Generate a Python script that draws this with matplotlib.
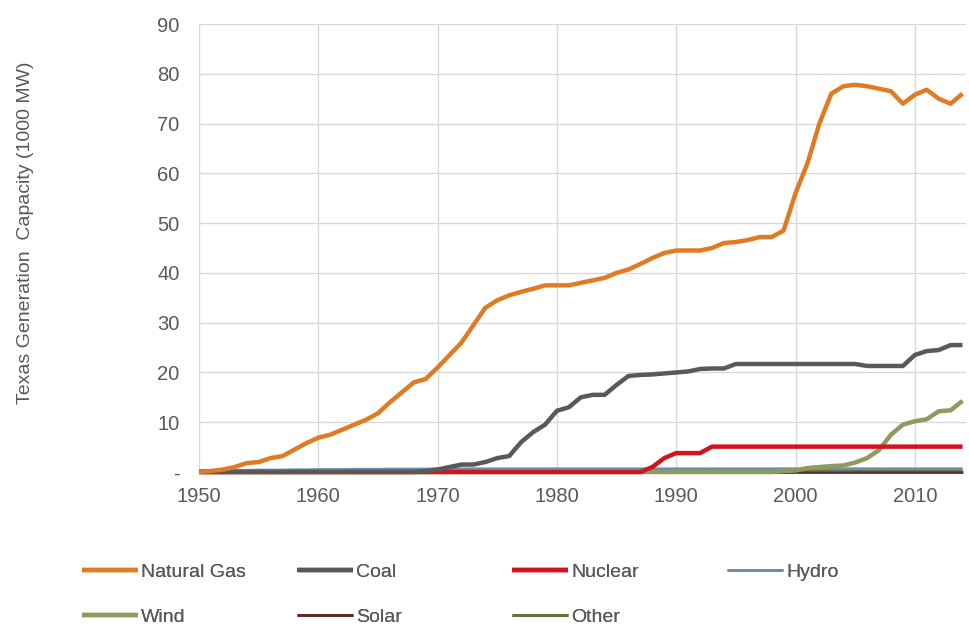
import matplotlib.pyplot as plt
from matplotlib.ticker import FuncFormatter

years = list(range(1950, 2015))

natural_gas = [0.0, 0.2, 0.5, 1.0, 1.8, 2.0, 2.8, 3.2, 4.5, 5.8,
               6.9, 7.5, 8.5, 9.5, 10.5, 11.8, 14.0, 16.0, 18.0, 18.7,
               21.0, 23.5, 26.0, 29.5, 33.0, 34.5, 35.5, 36.2, 36.8, 37.5,
               37.5, 37.5, 38.0, 38.5, 39.0, 40.0, 40.7, 41.8, 43.0, 44.0,
               44.5, 44.5, 44.5, 45.0, 46.0, 46.2, 46.6, 47.2, 47.2, 48.5,
               56.0, 62.0, 70.0, 76.0, 77.5, 77.8, 77.5, 77.0, 76.5, 74.0,
               75.8, 76.8, 75.0, 74.0, 76.0]

coal = [0.0] * 19 + [0.2, 0.5, 1.0, 1.5, 1.5, 2.0, 2.8, 3.2, 6.0, 8.0, 9.5,
                     12.3, 13.0, 15.0, 15.5, 15.5, 17.5, 19.3, 19.5, 19.6, 19.8,
                     20.0, 20.2, 20.7, 20.8, 20.8, 21.7, 21.7, 21.7, 21.7, 21.7,
                     21.7, 21.7, 21.7, 21.7, 21.7, 21.7, 21.3, 21.3, 21.3, 21.3,
                     23.5, 24.3, 24.5, 25.5, 25.5]

nuclear = [0.0] * 38 + [1.0, 2.8, 3.8, 3.8, 3.8, 5.1] + [5.1] * 21

hydro = [0.3, 0.3, 0.3, 0.35, 0.35, 0.4, 0.4, 0.4, 0.45, 0.45,
         0.5, 0.5, 0.5, 0.55, 0.55, 0.55, 0.6, 0.6, 0.6, 0.6] + [0.65] * 45

wind = [0.0] * 49 + [0.2, 0.3, 0.8, 1.0, 1.2, 1.3, 1.9, 2.8, 4.4, 7.5, 9.5,
                     10.2, 10.6, 12.2, 12.4, 14.3]

solar = [0.0] * 65

other = [0.1] * 45 + [0.2, 0.2, 0.3, 0.3, 0.3, 0.4, 0.4, 0.4, 0.4, 0.4,
                      0.5, 0.5, 0.5, 0.5, 0.5, 0.5, 0.5, 0.5, 0.5, 0.5]

series = [
    ('Natural Gas', natural_gas, '#E07B24', 3.2),
    ('Coal', coal, '#595959', 3.2),
    ('Nuclear', nuclear, '#D3141C', 3.2),
    ('Hydro', hydro, '#6A8FAA', 2.0),
    ('Wind', wind, '#8F9A5E', 3.2),
    ('Solar', solar, '#5C2C2C', 2.0),
    ('Other', other, '#62733A', 2.2),
]

plt.rcParams['font.family'] = ['Liberation Sans', 'DejaVu Sans']

fig = plt.figure(figsize=(9.69, 6.29), dpi=100)
ax = fig.add_axes([0.2054, 0.2496, 0.7916, 0.7122])

# draw back to front so the big ones sit on top like the original
order = ['Solar', 'Other', 'Hydro', 'Wind', 'Nuclear', 'Coal', 'Natural Gas']
handles = {}
for name, vals, color, lw in series:
    h, = ax.plot(years, vals, color=color, lw=lw, solid_capstyle='butt',
                 zorder=3 + order.index(name), clip_on=False)
    handles[name] = h

ax.set_xlim(1950, 2014.3)
ax.set_ylim(0, 90)
ax.set_xticks(range(1950, 2011, 10))
ax.set_yticks(range(0, 91, 10))
ax.yaxis.set_major_formatter(FuncFormatter(lambda v, p: '-' if v == 0 else '%d' % v))

ax.grid(True, color='#d9d9d9', lw=1)
ax.set_axisbelow(True)
for s in ax.spines.values():
    s.set_visible(False)
ax.tick_params(length=0, colors='#595959', labelsize=14.5, pad=14)
ax.tick_params(axis='x', pad=11)

ax.set_ylabel('Texas Generation  Capacity (1000 MW)', color='#595959',
              fontsize=14)
ax.yaxis.set_label_coords(-0.215, 0.533)

# legend: 4 evenly spaced columns, two rows (row-major like Excel)
labels = [s[0] for s in series]
col_x = [0.0857, 0.3075, 0.529, 0.751]
for i, x in enumerate(col_x):
    names = [n for n in (labels[i], labels[i + 4] if i + 4 < len(labels) else None) if n]
    leg = fig.legend([handles[n] for n in names], names, loc='upper left',
                     bbox_to_anchor=(x - 0.007, 0.114), frameon=False,
                     fontsize=14, handlelength=2.9, handletextpad=0.15,
                     labelspacing=1.42, labelcolor='#595959',
                     borderaxespad=0, borderpad=0.3)
    fig.add_artist(leg)

fig.savefig('out.png', dpi=100)
